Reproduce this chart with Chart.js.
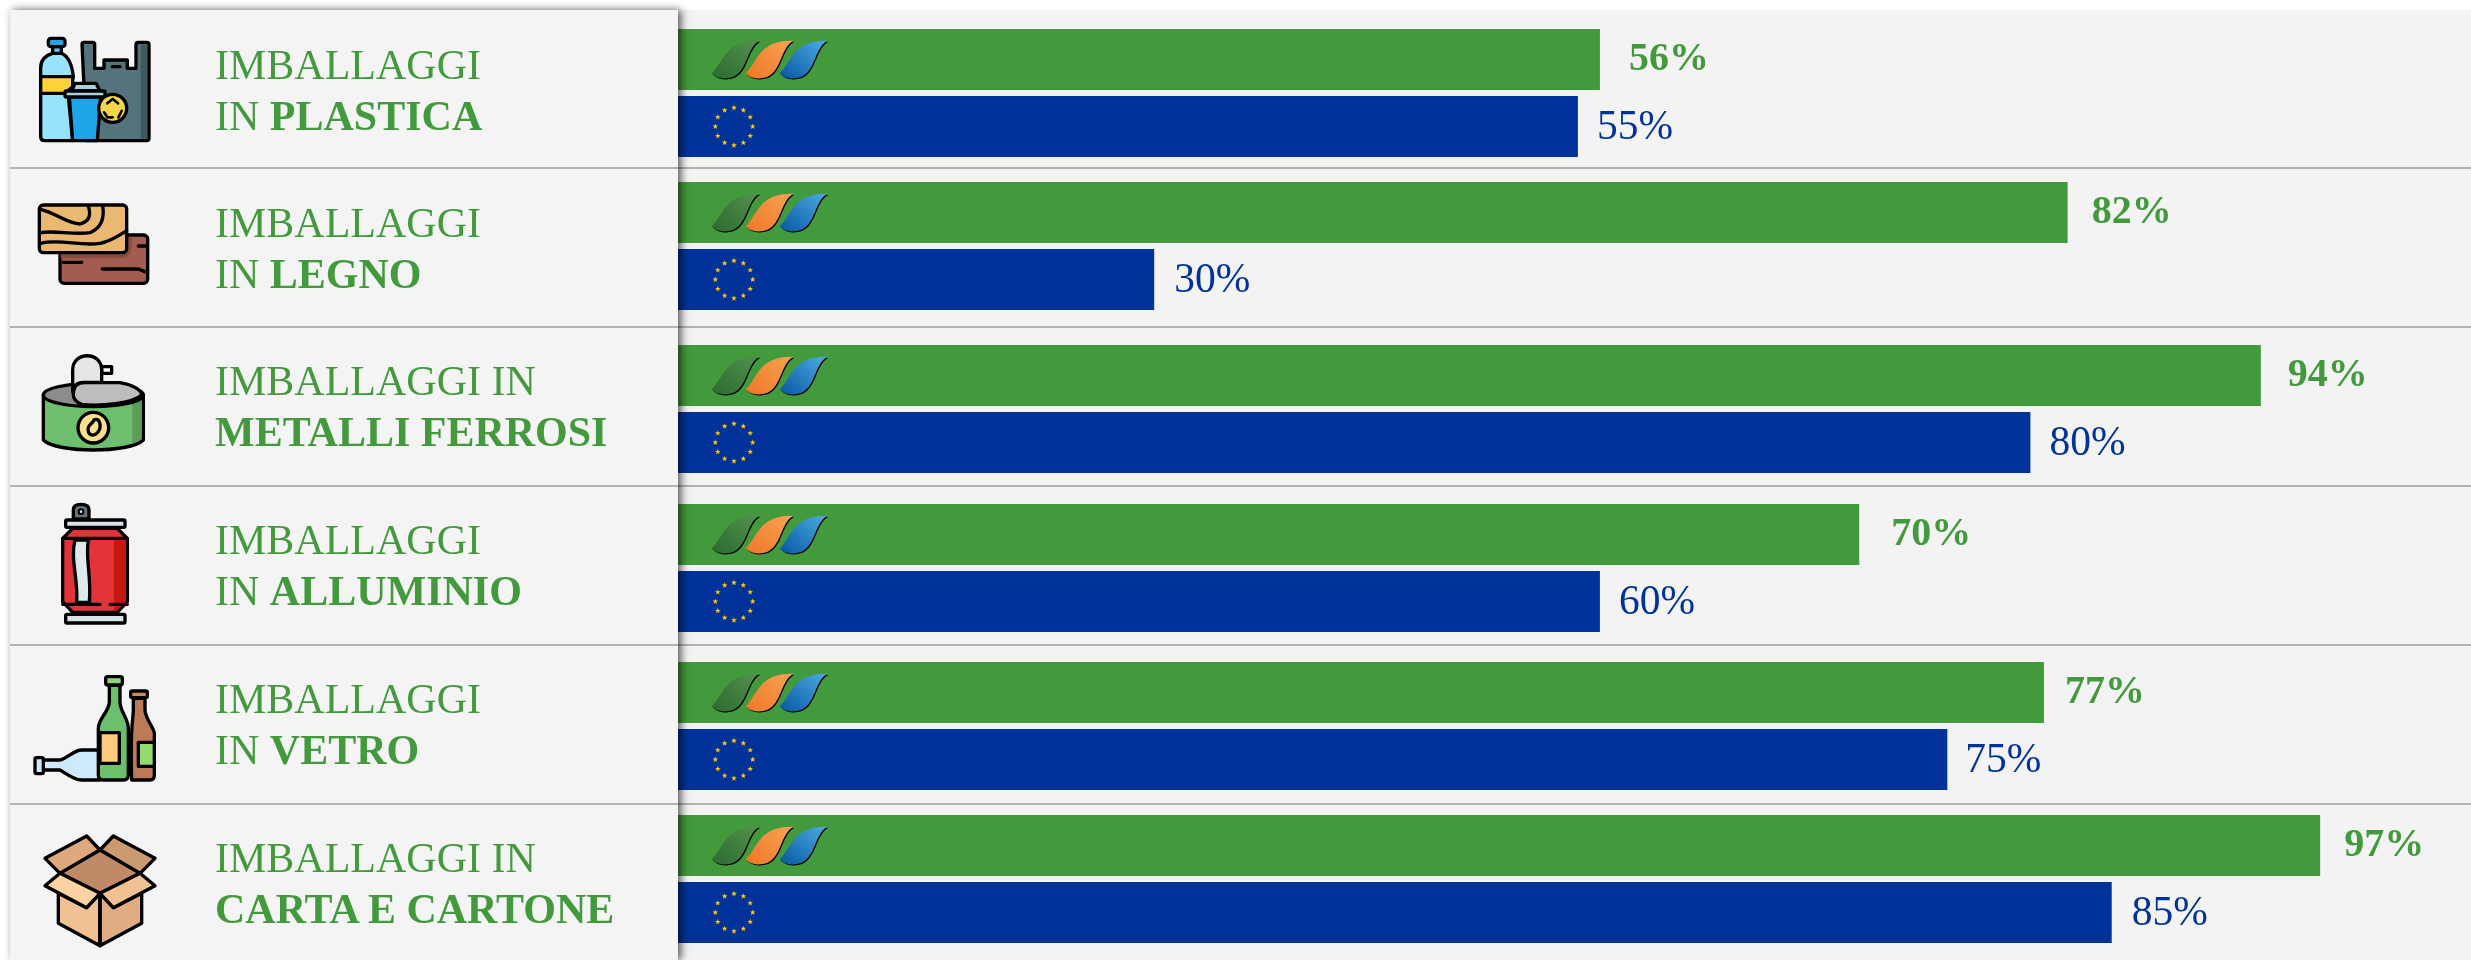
<!DOCTYPE html>
<html>
<head>
    <meta charset="UTF-8">
    <title>Imballaggi</title>
    <script src="https://cdn.jsdelivr.net/npm/chart.js"></script>
    <style>
        body { margin: 0; background: #fff; width: 2471px; height: 960px; overflow: hidden; position: relative; }
        #sfondo { position: absolute; left: 10px; top: 10px; width: 2461px; height: 950px; background: #f3f3f3; }
        #pannello { position: absolute; left: 10px; top: 10px; width: 668px; height: 950px; background: #f4f4f4; box-shadow: 3px 0 8px rgba(0,0,0,.65); }
        .riga { position: absolute; height: 2px; background: #b3b3b3; }
        canvas { position: absolute; left: 678px; }
        .testo { position: absolute; left: 215px; font: 42px/51px "Liberation Serif", serif; color: #439a3c; white-space: nowrap; }
        .icona { position: absolute; }
        .icona * { stroke: #000; stroke-width: 10; stroke-linejoin: round; stroke-linecap: round; }
        .icona .ombra { stroke: none; }
    </style>
</head>
<body>
    <div id="sfondo"></div>
    <div id="grafici"></div>
    <div id="pannello"></div>
    <div id="testi"></div>

    <svg class="icona" style="left:20px;top:25px" width="150" height="130" viewBox="0 0 450 390">
        <path fill="#54737c" d="M186 58Q186 52 192 52H218Q224 52 224 58V130H252V105H322V130H348V58Q348 52 354 52H380Q387 52 387 58V340Q387 347 380 347H200Z"/>
        <rect class="ombra" fill="#40585e" x="362" y="58" width="20" height="284"/>
        <path d="M277 125H300"/>
        <path fill="#97e3fc" d="M97 85C75 92 62 105 62 128V335Q62 347 74 347H158L145 215L160 155C155 110 140 92 125 85Z"/>
        <path fill="#ffd23c" d="M62 155H158V185L135 205H62Z"/>
        <rect fill="#5cc9f5" x="98" y="65" width="26" height="20"/>
        <rect fill="#2aa3e6" x="85" y="40" width="50" height="25" rx="8"/>
        <path fill="#1ea6ea" d="M148 215H242L232 347H158Z"/>
        <path fill="#a9d3db" d="M155 198L165 175H228L240 198Z"/>
        <rect fill="#a9d3db" x="135" y="198" width="120" height="18" rx="4"/>
        <circle fill="#f5d64a" cx="278" cy="250" r="42"/>
        <path fill="none" style="stroke-width:8" d="M262 235L278 222L294 235M252 262L262 277H278M305 258L295 277"/>
    </svg>

    <svg class="icona" style="left:20px;top:190px" width="150" height="110" viewBox="0 0 450 330">
        <rect fill="#a55c50" x="120" y="135" width="263" height="145" rx="12"/>
        <path class="ombra" fill="#8a4b40" d="M122 190H320V140H335V175Q330 205 300 205H122Z"/>
        <path fill="none" d="M130 217H185M247 237H355L380 247M355 168H380"/>
        <rect fill="#e9b872" x="58" y="45" width="262" height="143" rx="12"/>
        <path fill="none" d="M62 58C110 70 140 100 180 102C205 95 215 80 205 48M248 48C255 90 240 115 210 128C160 135 100 120 62 128M62 160C120 145 180 170 240 160C270 155 300 135 320 122"/>
    </svg>

    <svg class="icona" style="left:20px;top:345px" width="150" height="120" viewBox="0 0 450 360">
        <path fill="#6dbf6d" d="M70 150V285C110 325 330 325 370 285V150Z"/>
        <path class="ombra" fill="#5a9c58" d="M337 175L365 160V283L337 298Z"/>
        <ellipse fill="#8c8c8c" cx="220" cy="150" rx="150" ry="35"/>
        <path fill="#fff" d="M245 65H275V85H245Z"/>
        <path fill="#e6e6e6" d="M158 140V75C158 18 245 18 245 75V112H190C170 112 158 125 158 140Z"/>
        <path fill="#bdbdbd" d="M160 150C160 120 175 113 195 113H300C340 120 365 135 365 150C340 175 240 185 185 178C165 170 160 160 160 150Z"/>
        <circle fill="#fbdf8f" cx="220" cy="248" r="46"/>
        <path fill="#fbdf8f" d="M205 260C200 240 215 240 222 225C240 215 245 245 235 260C225 275 208 272 205 260Z"/>
    </svg>

    <svg class="icona" style="left:20px;top:495px" width="150" height="140" viewBox="0 0 450 420">
        <path fill="#66727b" d="M160 72V45Q160 28 183 28Q207 28 207 45V72Z"/>
        <circle fill="#ddd" style="stroke-width:6" cx="183" cy="50" r="7"/>
        <path fill="#e3333a" d="M158 100H292L322 130V320L292 352H158L128 320V130Z"/>
        <path class="ombra" fill="#c4180f" d="M282 135H318V320L290 347H282Z"/>
        <path fill="none" d="M128 130H322M128 328H240M270 328H322"/>
        <path fill="#dfe8ed" d="M165 135H205C195 190 215 240 208 322H170C175 250 150 190 165 135Z"/>
        <rect fill="#d8e4ea" x="137" y="75" width="178" height="22" rx="4"/>
        <rect fill="#d8e4ea" x="137" y="358" width="178" height="26" rx="4"/>
    </svg>

    <svg class="icona" style="left:20px;top:665px" width="150" height="125" viewBox="0 0 450 375">
        <path fill="#cde9fb" d="M70 285H120C145 280 160 255 185 255H240V345H185C160 345 130 320 120 315H70Z"/>
        <rect fill="#cde9fb" x="45" y="278" width="25" height="48" rx="5"/>
        <path fill="#bc7b56" d="M340 100V135C340 165 330 175 335 345H390Q403 345 403 330V205C403 190 375 160 375 135V100Z"/>
        <rect fill="#cf8a5c" x="332" y="78" width="50" height="20" rx="5"/>
        <rect fill="#96d96f" x="355" y="232" width="48" height="72"/>
        <path fill="#6cbf6c" d="M268 60V110C268 140 235 160 235 190V330Q235 345 250 345H310Q325 345 325 330V190C325 160 300 140 300 110V60Z"/>
        <rect fill="#8fd47a" x="257" y="35" width="50" height="25" rx="6"/>
        <path fill="#fdc97a" d="M240 203H298V295H240Z"/>
    </svg>

    <svg class="icona" style="left:30px;top:825px" width="140" height="130" viewBox="0 0 420 390">
        <path fill="#dfa97d" d="M45 100L170 33L210 75L90 145Z"/>
        <path fill="#cc9a70" d="M210 75L250 33L375 100L330 145Z"/>
        <path fill="#c08a66" d="M90 145L210 75L330 145L210 205Z"/>
        <path fill="#f2c193" d="M85 205V295L210 362V205L170 248Z"/>
        <path fill="#e0ac82" d="M210 205V362L335 295V205L250 248Z"/>
        <path fill="#fdd2a2" d="M90 145L210 205L170 248L45 182Z"/>
        <path fill="#f2c193" d="M330 145L375 182L250 248L210 205Z"/>
        <path fill="none" d="M210 205V362"/>
    </svg>

    <script>
        // testi della colonna di sinistra
        const prima = ['IMBALLAGGI', 'IMBALLAGGI', 'IMBALLAGGI IN', 'IMBALLAGGI', 'IMBALLAGGI', 'IMBALLAGGI IN'];
        const prefisso = ['IN ', 'IN ', '', 'IN ', 'IN ', ''];
        const materiali = ['PLASTICA', 'LEGNO', 'METALLI FERROSI', 'ALLUMINIO', 'VETRO', 'CARTA E CARTONE'];

        // percentuali scritte accanto alle barre
        const etichetteItalia = ['56%', '82%', '94%', '70%', '77%', '97%'];
        const etichetteUE = ['55%', '30%', '80%', '60%', '75%', '85%'];

        // lunghezza delle barre come disegnata nell'originale (non sempre uguale all'etichetta)
        const italia = [54.4, 82, 93.4, 69.7, 80.6, 96.9];
        const europa = [53.1, 28.1, 79.8, 54.4, 74.9, 84.6];

        const VERDE = '#439a3c';
        const BLU = '#003299';
        const MAX_X = 105.8;

        // layout: ogni coppia di barre e' un grafico a se', le righe non sono equidistanti
        const topGrafici = [26, 179, 342, 501, 659, 812];
        const topTesti = [40, 198, 356, 515, 674, 833];
        const righe = [167, 326, 485, 644, 803];
        const ALTEZZA = 134;
        const stacchiItalia = [29, 24, 27, 32, 21, 24];
        const stacchiUE = [19, 20, 19, 19, 18, 20];

        const foglie = [
            ['#2f6d33', '#4f8f4a', 0],
            ['#f07a2a', '#f5a04e', 102],
            ['#0d5ea8', '#45a5dc', 204]
        ];

        function disegnaFoglie(ctx, x, y) {
            for (const f of foglie) {
                ctx.save();
                ctx.translate(x + f[2] / 3, y);
                ctx.scale(1 / 3, 1 / 3);
                const p = new Path2D('M101 133C141 93 141 33 244 35C201 58 211 143 146 148C126 151 111 143 101 133Z');
                const g = ctx.createLinearGradient(120, 145, 220, 35);
                g.addColorStop(0, f[0]);
                g.addColorStop(1, f[1]);
                ctx.shadowColor = '#000';
                ctx.shadowOffsetX = 1;
                ctx.shadowOffsetY = 1;
                ctx.fillStyle = g;
                ctx.fill(p);
                ctx.restore();
            }
        }

        function disegnaStelle(ctx, cx, cy) {
            ctx.fillStyle = '#ffcc00';
            for (let i = 0; i < 12; i++) {
                const a = i * Math.PI / 6;
                const sx = cx + 18.7 * Math.sin(a);
                const sy = cy - 18.7 * Math.cos(a);
                ctx.beginPath();
                for (let k = 0; k < 10; k++) {
                    const r = k % 2 ? 1.2 : 3;
                    const b = k * Math.PI / 5;
                    ctx.lineTo(sx + r * Math.sin(b), sy - r * Math.cos(b));
                }
                ctx.closePath();
                ctx.fill();
            }
        }

        const decorazioni = {
            id: 'decorazioni',
            afterDatasetsDraw(chart) {
                const ctx = chart.ctx;
                const verde = chart.getDatasetMeta(0).data[0];
                const blu = chart.getDatasetMeta(1).data[0];
                const x0 = chart.scales.x.getPixelForValue(0);
                const dsV = chart.data.datasets[0];
                const dsB = chart.data.datasets[1];

                disegnaFoglie(ctx, x0, verde.y - verde.height / 2);
                disegnaStelle(ctx, x0 + 56, blu.y);

                ctx.textBaseline = 'alphabetic';
                ctx.textAlign = 'left';
                ctx.fillStyle = VERDE;
                ctx.font = 'bold 40px "Liberation Serif", serif';
                ctx.fillText(dsV.etichetta, verde.x + dsV.stacco, verde.y + verde.height / 2 - 20);
                ctx.fillStyle = BLU;
                ctx.font = '41.5px "Liberation Serif", serif';
                ctx.fillText(dsB.etichetta, blu.x + dsB.stacco, blu.y + blu.height / 2 - 18);
            }
        };

        const sfondo = document.getElementById('sfondo');
        const pannello = document.getElementById('pannello');
        for (const y of righe) {
            for (const contenitore of [sfondo, pannello]) {
                const r = document.createElement('div');
                r.className = 'riga';
                r.style.cssText = 'left:0;right:0;top:' + (y - 10) + 'px';
                contenitore.appendChild(r);
            }
        }

        materiali.forEach(function (m, i) {
            const t = document.createElement('div');
            t.className = 'testo';
            t.style.top = topTesti[i] + 'px';
            t.innerHTML = prima[i] + '<br>' + prefisso[i] + '<b>' + m + '</b>';
            document.getElementById('testi').appendChild(t);

            const c = document.createElement('canvas');
            c.width = 1793;
            c.height = ALTEZZA;
            c.style.top = topGrafici[i] + 'px';
            document.getElementById('grafici').appendChild(c);

            new Chart(c.getContext('2d'), {
                type: 'bar',
                data: {
                    labels: [m],
                    datasets: [
                        { label: 'Italia', data: [italia[i]], backgroundColor: VERDE, etichetta: etichetteItalia[i], stacco: stacchiItalia[i] },
                        { label: 'UE', data: [europa[i]], backgroundColor: BLU, etichetta: etichetteUE[i], stacco: stacchiUE[i] }
                    ]
                },
                options: {
                    indexAxis: 'y',
                    responsive: false,
                    animation: false,
                    devicePixelRatio: 1,
                    categoryPercentage: 1,
                    barPercentage: 61 / 67,
                    layout: { padding: 0 },
                    plugins: { legend: { display: false }, tooltip: { enabled: false } },
                    scales: {
                        x: { display: false, min: 0, max: MAX_X },
                        y: { display: false }
                    }
                },
                plugins: [decorazioni]
            });
        });
    </script>
</body>
</html>
